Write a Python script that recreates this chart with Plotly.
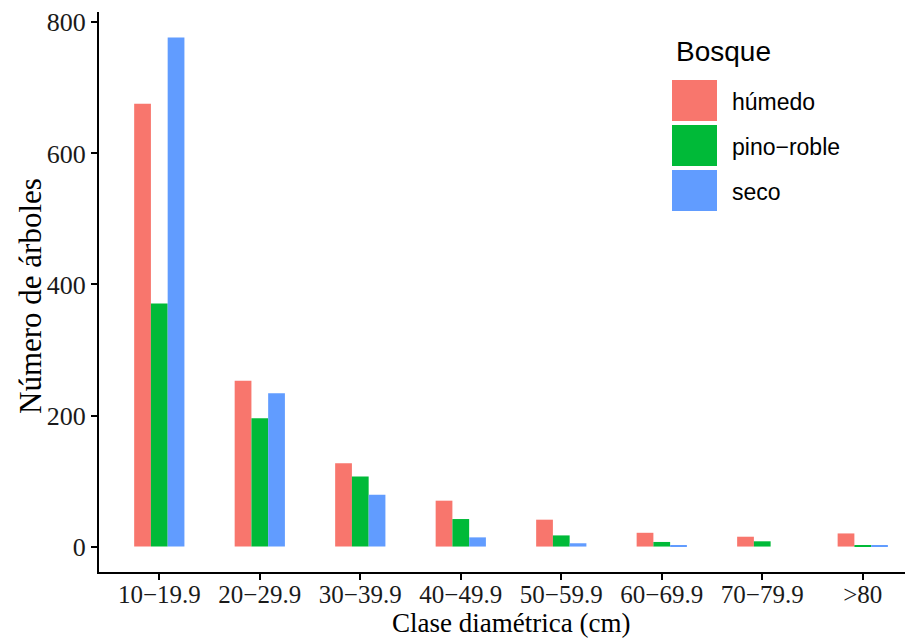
import plotly.graph_objects as go

categories = ["10\u221219.9", "20\u221229.9", "30\u221239.9", "40\u221249.9",
              "50\u221259.9", "60\u221269.9", "70\u221279.9", ">80"]
humedo = [676, 253, 127, 70, 41, 21, 15, 20]
pino_roble = [371, 196, 107, 42, 17, 7, 8, 1]
seco = [777, 234, 79, 14, 5, 2, 0, 2]

series_names = ["h\u00famedo", "pino\u2212roble", "seco"]
series_values = [humedo, pino_roble, seco]
colors = ["#F8766D", "#00BA38", "#619CFF"]

fig = go.Figure()
for name, vals, col in zip(series_names, series_values, colors):
    fig.add_trace(go.Bar(x=list(range(len(categories))), y=vals, name=name,
                         marker=dict(color=col, line=dict(width=0)),
                         showlegend=False))

serif = "Liberation Serif, Times New Roman, serif"
sans = "Liberation Sans, Arial, sans-serif"

fig.update_layout(
    width=905, height=630,
    margin=dict(l=91, r=0, t=4, b=66),
    plot_bgcolor="white", paper_bgcolor="white",
    barmode="group", bargap=0.5, bargroupgap=0,
    xaxis=dict(range=[-0.6, 7.5], tickmode="array",
               tickvals=list(range(len(categories))), ticktext=categories,
               showline=True, linecolor="black", linewidth=2,
               ticks="outside", ticklen=6, tickwidth=1.5, tickcolor="black",
               ticklabelstandoff=-7,
               showgrid=False, zeroline=False, automargin=False,
               tickfont=dict(family=serif, size=25, color="#1a1a1a")),
    yaxis=dict(range=[-38.85, 815.85], tickvals=[0, 200, 400, 600, 800],
               showline=True, linecolor="black", linewidth=2,
               ticks="outside", ticklen=6, tickwidth=1.5, tickcolor="black",
               showgrid=False, zeroline=False, automargin=False,
               tickfont=dict(family=serif, size=26, color="#1a1a1a")),
)

# helpers: screen pixel -> paper coordinates (page has 8px body offset)
def px_x(x):
    return (x - 99) / 814.0

def px_y(y):
    return (572 - y) / 560.0

# axis titles
fig.add_annotation(x=0.506, y=px_y(623), xref="paper", yref="paper",
                   text="Clase diam\u00e9trica (cm)", showarrow=False,
                   xanchor="center", yanchor="middle",
                   font=dict(family=serif, size=27, color="black"))
fig.add_annotation(x=px_x(30), y=px_y(296), xref="paper", yref="paper",
                   text="N\u00famero de \u00e1rboles", showarrow=False, textangle=-90,
                   xanchor="center", yanchor="middle",
                   font=dict(family=serif, size=31, color="black"))

# ggplot-style legend with large keys
fig.add_annotation(x=px_x(674), y=px_y(52), xref="paper", yref="paper",
                   text="Bosque", showarrow=False, xanchor="left", yanchor="middle",
                   font=dict(family=sans, size=28, color="black"))
key_tops = [80, 125, 170]
for name, col, top in zip(series_names, colors, key_tops):
    fig.add_shape(type="rect", xref="paper", yref="paper",
                  x0=px_x(672), x1=px_x(717), y0=px_y(top + 41), y1=px_y(top),
                  fillcolor=col, line=dict(width=0))
    fig.add_annotation(x=px_x(730), y=px_y(top + 22), xref="paper", yref="paper",
                       text=name, showarrow=False, xanchor="left", yanchor="middle",
                       font=dict(family=sans, size=23, color="black"))

fig.write_html("out.html")
